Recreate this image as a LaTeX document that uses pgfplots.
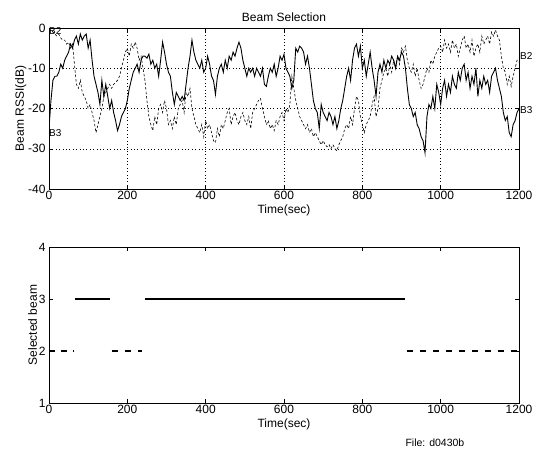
\documentclass[border=0pt]{standalone}
\usepackage{pgfplots}
\pgfplotsset{compat=1.18}
\usepackage{fontspec}
\setmainfont{Liberation Sans}
\pgfplotstableread{
t v
0 -25
5 -18
10 -13
15 -12
20 -12
25 -11
30 -9
35 -10
40 -8
45 -7
50 -6
55 -4
60 -5
65 -3
70 -2
75 -4
80 -1.5
85 -3
90 -2
95 -1.5
100 -5
105 -3
110 -8
115 -12
120 -14
125 -16
130 -19
135 -13
140 -17
145 -14
150 -17
155 -20
160 -18
165 -21
170 -23
175 -25.5
180 -24
185 -22
190 -21
195 -20
200 -18
205 -15
210 -13
215 -11
220 -10
225 -9
230 -11
235 -8
240 -7
245 -7
250 -7.5
255 -6.5
260 -9
265 -8
270 -10
275 -9
280 -12
285 -8
290 -3.5
295 -6
300 -9
305 -11
310 -12
315 -16
320 -19
325 -16
330 -17
335 -18
340 -17
345 -18
350 -14
355 -10
360 -7
365 -3
370 -6
375 -8
380 -9
385 -10
390 -8
395 -11
400 -10
405 -7
410 -9
415 -12
420 -13
425 -16.5
430 -12
435 -10
440 -9
445 -11
450 -8
455 -10
460 -7
465 -8
470 -6
475 -7
480 -5
485 -3.5
490 -5
495 -8
500 -10
505 -12
510 -10
515 -11
520 -10
525 -12
530 -10
535 -11
540 -12
545 -10
550 -14
555 -14.5
560 -12
565 -10
570 -11
575 -9
580 -12
585 -10
590 -7
595 -8
600 -6.5
605 -10
610 -11
615 -12
620 -15
625 -13
630 -5
635 -6
640 -4.5
645 -5
650 -6
655 -9
660 -7
665 -10
670 -14
675 -18
680 -20
685 -21
690 -25
695 -19
700 -21
705 -22
710 -23
715 -21
720 -22
725 -24
730 -22
735 -25
740 -23
745 -20
750 -18
755 -15
760 -12
765 -10
770 -13
775 -8
780 -5
785 -4
790 -7
795 -4.5
800 -10
805 -8
810 -12
815 -9
820 -6
825 -10
830 -13
835 -17
840 -11
845 -9
850 -11
855 -8
860 -10
865 -8
870 -9
875 -7
880 -8
885 -10
890 -7
895 -8
900 -6
905 -7
910 -10
915 -15
920 -19
925 -20
930 -22
935 -21
940 -24
945 -25
950 -27
955 -28
960 -31
965 -22
970 -19
975 -20
980 -17
985 -20
990 -14
995 -16
1000 -19
1005 -15
1010 -13
1015 -17
1020 -14
1025 -16
1030 -12
1035 -14
1040 -15
1045 -11
1050 -13
1055 -10
1060 -9
1065 -13
1070 -11
1075 -15
1080 -12
1085 -14
1090 -10
1095 -17
1100 -13
1105 -15
1110 -12
1115 -14
1120 -13
1125 -16
1130 -12
1135 -11
1140 -10
1145 -13
1150 -15
1155 -17
1160 -21
1165 -23
1170 -22
1175 -26
1180 -27
1185 -24
1190 -23
1195 -21
1200 -20
}\beamthree
\pgfplotstableread{
t v
0 -1
5 -0.5
10 -1
15 -1.5
20 -2
25 -1.5
30 -2.5
35 -3
40 -3
45 -4
50 -3.5
55 -5
60 -4
65 -9
70 -14
75 -15
80 -13
85 -16
90 -17
95 -18
100 -20
105 -19
110 -21
115 -23
120 -26
125 -24
130 -22
135 -20
140 -17
145 -16
150 -15
155 -14
160 -15
165 -14
170 -13.5
175 -13
180 -12
185 -10
190 -8
195 -6
200 -5
205 -7
210 -4
215 -5
220 -3.5
225 -5
230 -8
235 -7
240 -10
245 -13
250 -18
255 -22
260 -24
265 -25.5
270 -22
275 -24
280 -20
285 -19
290 -21
295 -18
300 -20
305 -24
310 -23
315 -25
320 -22
325 -24
330 -20
335 -19
340 -18
345 -21
350 -16
355 -17
360 -15
365 -20
370 -22
375 -24
380 -25
385 -26
390 -24
395 -27
400 -23
405 -25
410 -24
415 -26
420 -28
425 -28.5
430 -25
435 -27
440 -24
445 -25
450 -23
455 -21
460 -20
465 -24
470 -22
475 -21
480 -23
485 -24
490 -22
495 -21
500 -23
505 -24
510 -22
515 -25
520 -21
525 -20
530 -19
535 -18
540 -17.5
545 -20
550 -22
555 -24
560 -23
565 -25
570 -24
575 -25.5
580 -23
585 -24
590 -22
595 -21
600 -23
605 -20
610 -21
615 -19
620 -12
625 -15
630 -18
635 -20
640 -22
645 -23
650 -24
655 -25
660 -24
665 -26
670 -25
675 -27
680 -26
685 -27
690 -28
695 -29
700 -28
705 -29
710 -29.5
715 -29
720 -30
725 -29
730 -30
735 -30.5
740 -29
745 -28
750 -27
755 -25
760 -24
765 -25
770 -22
775 -24
780 -20
785 -17
790 -18
795 -22
800 -24
805 -26
810 -24
815 -23
820 -22
825 -19
830 -17
835 -22
840 -20
845 -15
850 -13
855 -11
860 -10
865 -12
870 -9
875 -11
880 -8
885 -10
890 -7
895 -9
900 -5
905 -6
910 -4.5
915 -8
920 -10
925 -11
930 -9
935 -12
940 -10
945 -13
950 -15
955 -14
960 -12
965 -10
970 -11
975 -8
980 -9
985 -7
990 -6
995 -5
1000 -4.5
1005 -6
1010 -3
1015 -5
1020 -4
1025 -6
1030 -3
1035 -5
1040 -4
1045 -7
1050 -5
1055 -3
1060 -2
1065 -5
1070 -4
1075 -6
1080 -3
1085 -7
1090 -5
1095 -4
1100 -6
1105 -2
1110 -4
1115 -3
1120 -2
1125 -4
1130 -1
1135 -2
1140 -0.5
1145 -2
1150 -3
1155 -7
1160 -10
1165 -11
1170 -14
1175 -12
1180 -14.5
1185 -12
1190 -10
1195 -8
1200 -8.5
}\beamtwo
\begin{document}
\begin{tikzpicture}[font=\fontsize{12}{14}\selectfont]
\useasboundingbox (0,0) rectangle (534pt,449pt);
\pgfplotsset{
  every axis/.append style={
    scale only axis, width=470pt, xmin=0, xmax=1200,
    xtick={0,200,...,1200},
    tick align=inside, major tick length=4pt,
    tick style={black, thin},
    axis line style={black, line width=0.9pt},
    /pgf/number format/assume math mode=true,
    /pgf/number format/set thousands separator={},
    tick label style={font=\fontsize{12}{14}\selectfont},
    label style={font=\fontsize{12}{14}\selectfont},
    xtick pos=both, ytick pos=both,
    xticklabel style={yshift=1pt},
    xlabel={Time(sec)},
    xlabel style={yshift=2pt},
    ylabel style={yshift=-5pt},
    clip=true,
  }
}
\begin{axis}[
  at={(49pt,260pt)}, anchor=south west, height=161pt,
  ymin=-40, ymax=0, ytick={-40,-30,...,0},
  grid=major, grid style={black, thin, dash pattern=on 0.8pt off 2.6pt},
  ylabel={Beam RSSI(dB)},
  title={Beam Selection}, title style={yshift=-3pt},
  clip mode=individual,
]
\addplot[black, line width=0.9pt] table[x=t, y=v] {\beamthree};
\addplot[black, line width=0.6pt, dash pattern=on 2.5pt off 2pt] table[x=t, y=v] {\beamtwo};
\node[anchor=west, inner sep=0pt, font=\fontsize{10}{11}\selectfont] at (axis cs:0,-0.8) {B2};
\node[anchor=west, inner sep=0pt, font=\fontsize{10}{11}\selectfont] at (axis cs:0,-26) {B3};
\node[anchor=west, inner sep=1pt, font=\fontsize{10}{11}\selectfont] at (axis cs:1200,-7) {B2};
\node[anchor=west, inner sep=1pt, font=\fontsize{10}{11}\selectfont] at (axis cs:1200,-20.5) {B3};
\end{axis}
\begin{axis}[
  at={(49pt,46pt)}, anchor=south west, height=156pt,
  ymin=1, ymax=4, ytick={1,2,3,4},
  ylabel={Selected beam},
]
\addplot[black, line width=2pt] coordinates {(66,3) (155,3)};
\addplot[black, line width=2pt] coordinates {(244,3) (910,3)};
\addplot[black, line width=1.5pt, dash pattern=on 6pt off 6pt] coordinates {(0,2) (62,2)};
\addplot[black, line width=1.5pt, dash pattern=on 6pt off 7pt] coordinates {(160,2) (238,2)};
\addplot[black, line width=1.5pt, dash pattern=on 6pt off 7pt] coordinates {(915,2) (1200,2)};
\end{axis}
\node[anchor=base west, font=\fontsize{10.5}{12}\selectfont] at (402pt,3pt) {File: d0430b};
\end{tikzpicture}
\end{document}
